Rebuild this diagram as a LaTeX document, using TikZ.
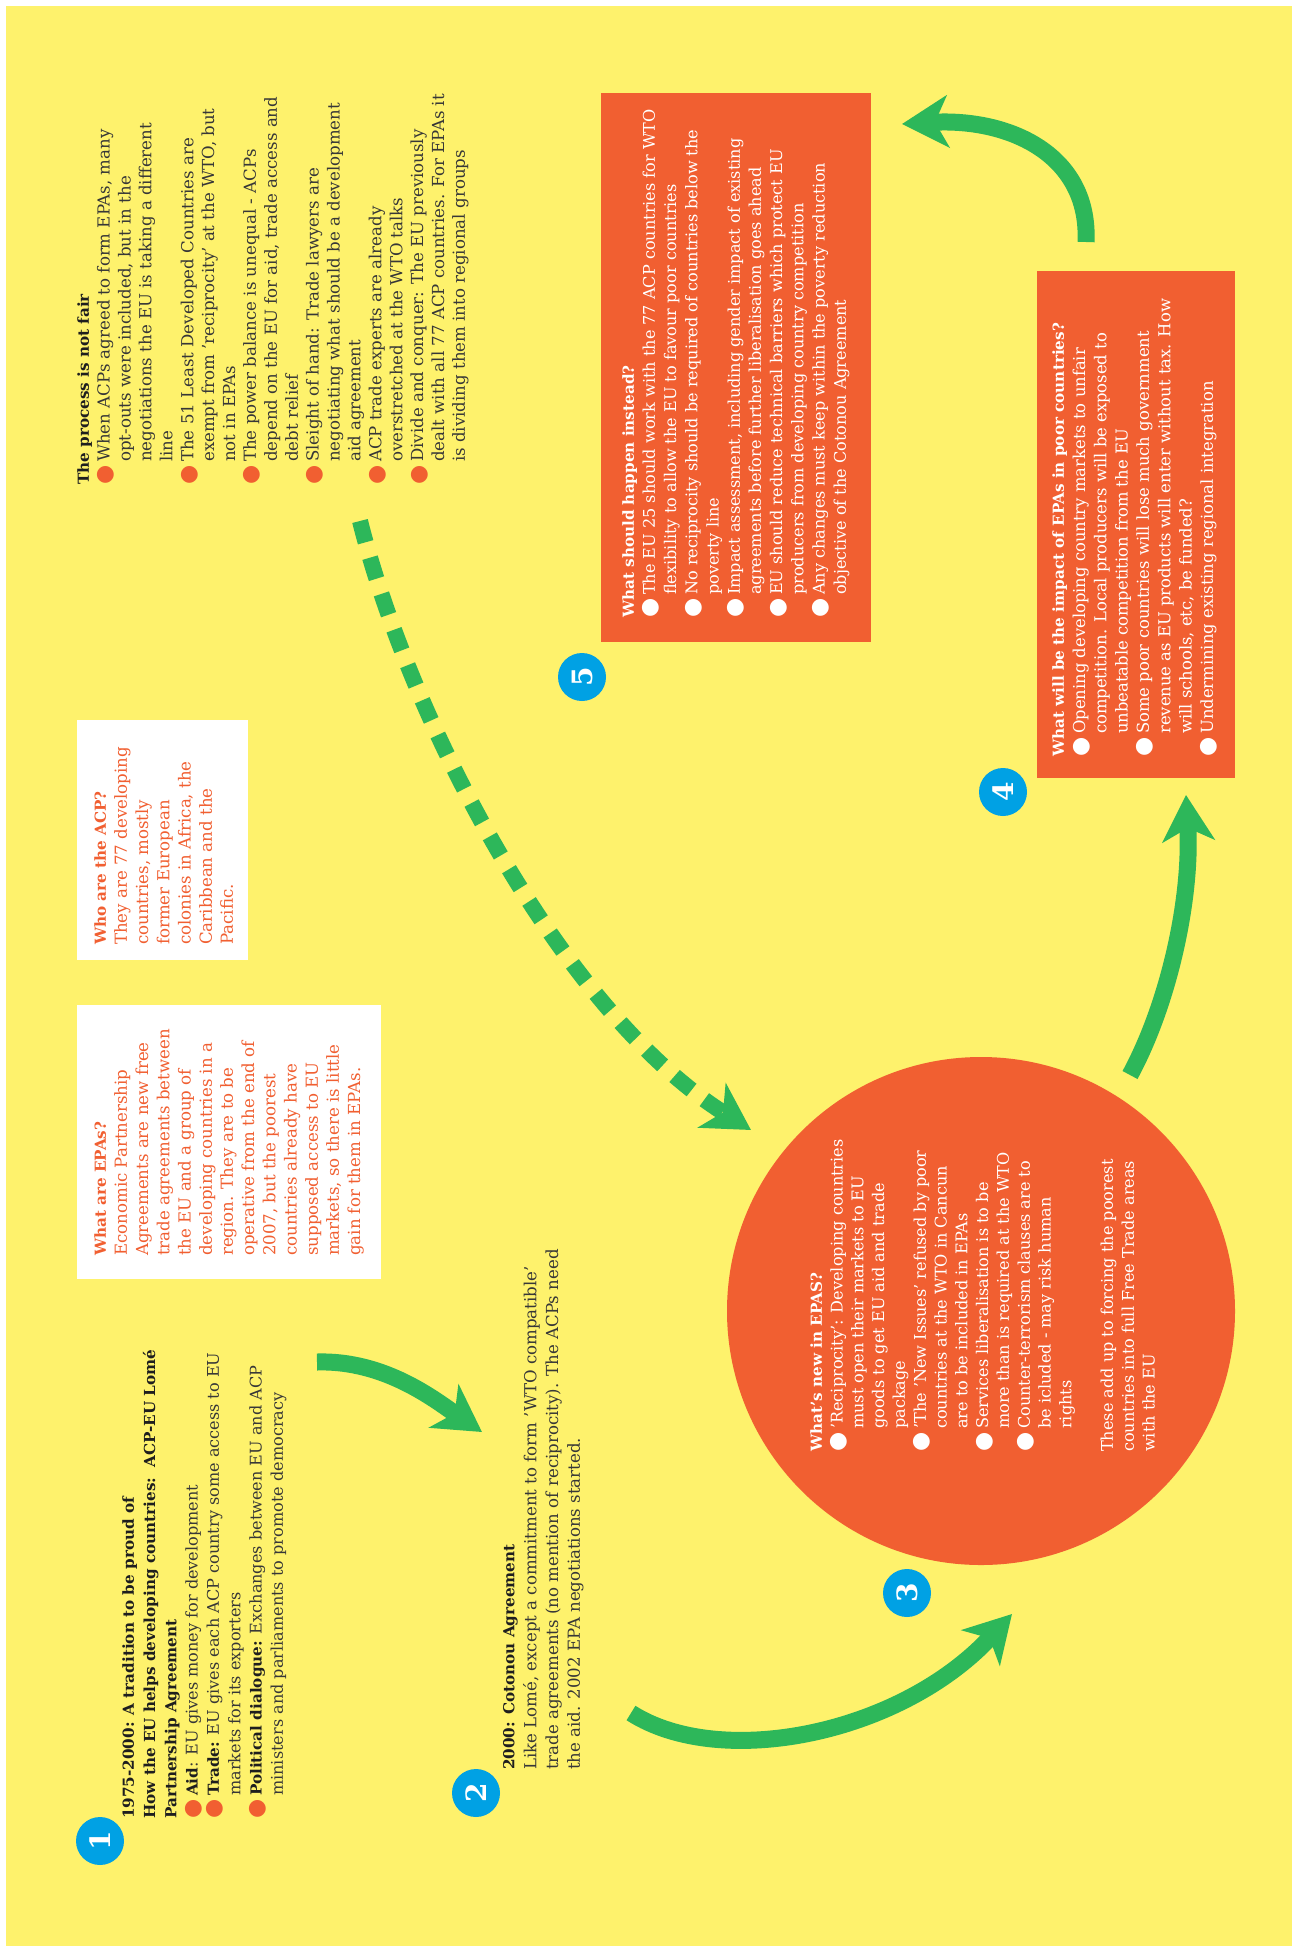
\documentclass[tikz,border=0pt]{standalone}
\usepackage{fontspec}
\setmainfont{DejaVu Serif}
\newfontfamily\symfont{DejaVu Sans}
\usetikzlibrary{arrows.meta}
\definecolor{bgyellow}{RGB}{254,242,108}
\definecolor{epaorange}{RGB}{241,95,49}
\definecolor{epagreen}{RGB}{45,183,90}
\definecolor{epablue}{RGB}{0,161,228}
\definecolor{textgray}{RGB}{55,55,55}
\definecolor{headblack}{RGB}{30,30,30}
\newcommand{\bdot}[1]{\makebox[23pt][l]{\raisebox{-2pt}{\textcolor{#1}{\fontsize{22}{22}\symfont ●}}}}
\newcommand{\bind}{\hspace*{23pt}}
\newcommand{\hd}[1]{{\fontsize{15.2}{\the\baselineskip}\selectfont\bfseries #1}}
\begin{document}
\begin{tikzpicture}[x=1pt,y=-1pt,
  txt/.style={rotate=90, anchor=north west, inner sep=0pt, align=left,
    font=\fontsize{16.2}{21.3}\selectfont, text=textgray},
  whitebox/.style={fill=white, draw=none, inner sep=0pt},
  orangebox/.style={fill=epaorange, draw=none, inner sep=0pt},
  numc/.style={circle, fill=epablue, text=white, inner sep=0pt, minimum size=48pt,
    rotate=90, font=\fontsize{28}{28}\selectfont\bfseries},
  garrow/.style={draw=epagreen, line width=17pt,
    -{Stealth[length=46pt, width=52pt, inset=13pt, fill=epagreen]}},
  gdash/.style={draw=epagreen, line width=16pt, dash pattern=on 22pt off 16pt,
    -{Stealth[length=46pt, width=52pt, inset=13pt, fill=epagreen]}}]
\useasboundingbox (0,0) rectangle (1296,1946);
\fill[white] (0,0) rectangle (1296,1946);
\fill[bgyellow] (6,6) rectangle (1292,1946);

% boxes
\node[whitebox, minimum width=304pt, minimum height=274pt] (epabox) at (229,1142) {};
\node[whitebox, minimum width=171pt, minimum height=240pt] (acpbox) at (162.5,840) {};
\node[orangebox, minimum width=270pt, minimum height=549pt] (box5) at (736,367.5) {};
\node[orangebox, minimum width=198pt, minimum height=507pt] (box4) at (1136,524.5) {};
\node[circle, fill=epaorange, inner sep=0pt, minimum size=508pt] (circ3) at (981,1311) {};

% arrows
\coordinate (a1s) at (317,1362);
\coordinate (a1e) at (482,1432);
\coordinate (a2s) at (631,1713);
\coordinate (a2e) at (1012,1614);
\coordinate (a3s) at (1130,1075);
\coordinate (a3e) at (1186,795);
\coordinate (a4s) at (1086,242);
\coordinate (a4e) at (902,124);
\coordinate (dss) at (360,521);
\coordinate (dse) at (751,1130);
\draw[garrow] (a1s) .. controls (385,1360) and (435,1400) .. (a1e);
\draw[garrow] (a2s) .. controls (720,1770) and (900,1735) .. (a2e);
\draw[garrow] (a3s) .. controls (1168,1005) and (1192,900) .. (a3e);
\draw[garrow] (a4s) .. controls (1090,155) and (1010,118) .. (a4e);
\draw[gdash] (dss) .. controls (410,720) and (560,1010) .. (dse);

% number circles
\node[numc] (n1) at (100,1841) {1};
\node[numc] (n2) at (476,1793) {2};
\node[numc] (n3) at (907,1593) {3};
\node[numc] (n4) at (1003,792) {4};
\node[numc] (n5) at (582,677) {5};

% item 1
\node[txt, font=\fontsize{16.1}{21.3}\selectfont] (t1) at (122,1819) {%
\textcolor{headblack}{\hd{1975-2000: A tradition to be proud of}}\\
\textcolor{headblack}{\hd{How the EU helps developing countries:\ \ ACP-EU Lomé}}\\
\textcolor{headblack}{\hd{Partnership Agreement}}\\
\bdot{epaorange}\textcolor{headblack}{\hd{Aid}}: EU gives money for development\\
\bdot{epaorange}\textcolor{headblack}{\hd{Trade:}} EU gives each ACP country some access to EU\\
\bind markets for its exporters\\
\bdot{epaorange}\textcolor{headblack}{\hd{Political dialogue:}} Exchanges between EU and ACP\\
\bind ministers and parliaments to promote democracy};

% item 2
\node[txt, font=\fontsize{16.6}{21.8}\selectfont] (t2) at (503,1770) {%
\textcolor{headblack}{\hd{2000: Cotonou Agreement}}\\
Like Lomé, except a commitment to form 'WTO compatible'\\
trade agreements (no mention of reciprocity). The ACPs need\\
the aid. 2002 EPA negotiations started.};

% EPAs box text
\node[txt, text=epaorange, font=\fontsize{16.6}{21.2}\selectfont] (tepa) at (94,1256) {%
\hd{What are EPAs?}\\
Economic Partnership\\
Agreements are new free\\
trade agreements between\\
the EU and a group of\\
developing countries in a\\
region. They are to be\\
operative from the end of\\
2007, but the poorest\\
countries already have\\
supposed access to EU\\
markets, so there is little\\
gain for them in EPAs.};

% ACP box text
\node[txt, text=epaorange, font=\fontsize{16.6}{21.2}\selectfont] (tacp) at (94,945) {%
\hd{Who are the ACP?}\\
They are 77 developing\\
countries, mostly\\
former European\\
colonies in Africa, the\\
Caribbean and the\\
Pacific.};

% process not fair
\node[txt, font=\fontsize{16.6}{20.9}\selectfont] (tproc) at (77,485) {%
\textcolor{headblack}{\hd{The process is not fair}}\\
\bdot{epaorange}When ACPs agreed to form EPAs, many\\
\bind opt-outs were included, but in the\\
\bind negotiations the EU is taking a different\\
\bind line\\
\bdot{epaorange}The 51 Least Developed Countries are\\
\bind exempt from 'reciprocity' at the WTO, but\\
\bind not in EPAs\\
\bdot{epaorange}The power balance is unequal - ACPs\\
\bind depend on the EU for aid, trade access and\\
\bind debt relief\\
\bdot{epaorange}Sleight of hand: Trade lawyers are\\
\bind negotiating what should be a development\\
\bind aid agreement\\
\bdot{epaorange}ACP trade experts are already\\
\bind overstretched at the WTO talks\\
\bdot{epaorange}Divide and conquer: The EU previously\\
\bind dealt with all 77 ACP countries. For EPAs it\\
\bind is dividing them into regional groups};

% item 5 text
\node[txt, text=white, font=\fontsize{16.1}{21.2}\selectfont] (t5) at (622,618) {%
\hd{What should happen instead?}\\
\bdot{white}The EU 25 should work with the 77 ACP countries for WTO\\
\bind flexibility to allow the EU to favour poor countries\\
\bdot{white}No reciprocity should be required of countries below the\\
\bind poverty line\\
\bdot{white}Impact assessment, including gender impact of existing\\
\bind agreements before further liberalisation goes ahead\\
\bdot{white}EU should reduce technical barriers which protect EU\\
\bind producers from developing country competition\\
\bdot{white}Any changes must keep within the poverty reduction\\
\bind objective of the Cotonou Agreement};

% item 4 text
\node[txt, text=white, font=\fontsize{16.4}{21.3}\selectfont] (t4) at (1052,757) {%
\hd{What will be the impact of EPAs in poor countries?}\\
\bdot{white}Opening developing country markets to unfair\\
\bind competition. Local producers will be exposed to\\
\bind unbeatable competition from the EU\\
\bdot{white}Some poor countries will lose much government\\
\bind revenue as EU products will enter without tax. How\\
\bind will schools, etc, be funded?\\
\bdot{white}Undermining existing regional integration};

% item 3 text
\node[txt, text=white, font=\fontsize{16.1}{20.8}\selectfont] (t3) at (810,1452) {%
\hd{What's new in EPAS?}\\
\bdot{white}'Reciprocity': Developing countries\\
\bind must open their markets to EU\\
\bind goods to get EU aid and trade\\
\bind package\\
\bdot{white}'The 'New Issues' refused by poor\\
\bind countries at the WTO in Cancun\\
\bind are to be included in EPAs\\
\bdot{white}Services liberalisation is to be\\
\bind more than is required at the WTO\\
\bdot{white}Counter-terrorism clauses are to\\
\bind be icluded - may risk human\\
\bind rights\\[20.8pt]
These add up to forcing the poorest\\
countries into full Free Trade areas\\
with the EU};
\end{tikzpicture}
\end{document}
